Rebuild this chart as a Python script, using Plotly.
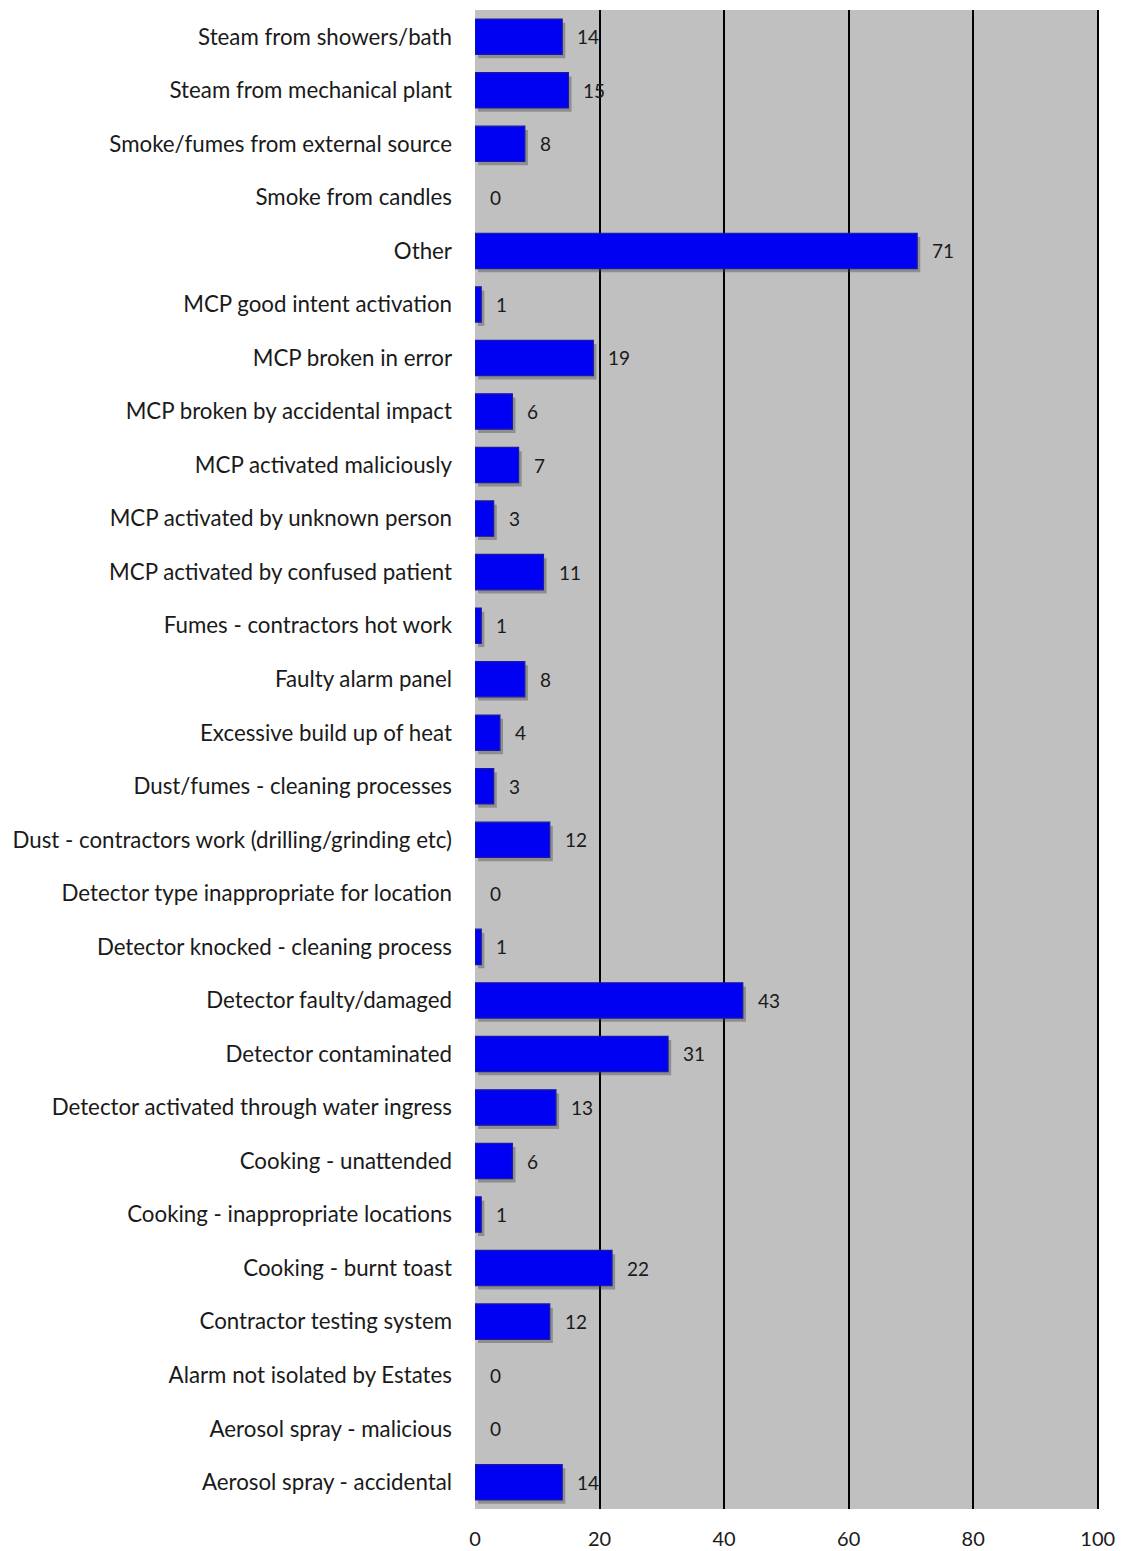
import plotly.graph_objects as go

categories = [
    "Aerosol spray - accidental",
    "Aerosol spray - malicious",
    "Alarm not isolated by Estates",
    "Contractor testing system",
    "Cooking - burnt toast",
    "Cooking - inappropriate locations",
    "Cooking - unattended",
    "Detector activated through water ingress",
    "Detector contaminated",
    "Detector faulty/damaged",
    "Detector knocked - cleaning process",
    "Detector type inappropriate for location",
    "Dust - contractors work (drilling/grinding etc)",
    "Dust/fumes - cleaning processes",
    "Excessive build up of heat",
    "Faulty alarm panel",
    "Fumes - contractors hot work",
    "MCP activated by confused patient",
    "MCP activated by unknown person",
    "MCP activated maliciously",
    "MCP broken by accidental impact",
    "MCP broken in error",
    "MCP good intent activation",
    "Other",
    "Smoke from candles",
    "Smoke/fumes from external source",
    "Steam from mechanical plant",
    "Steam from showers/bath",
]
values = [14, 0, 0, 12, 22, 1, 6, 13, 31, 43, 1, 0, 12, 3, 4, 8, 1, 11, 3, 7, 6, 19, 1, 71, 0, 8, 15, 14]
x_ticks = [0, 20, 40, 60, 80, 100]

FONT = "Lato, Calibri, Carlito, sans-serif"

line_widths = [1.2 if v > 0 else 0 for v in values]

fig = go.Figure()
# soft drop shadow
fig.add_trace(go.Bar(
    y=categories, x=values, orientation="h", base=0.5,
    width=0.66, offset=-0.40,
    marker=dict(color="rgba(60,60,60,0.38)", line=dict(width=0)),
    hoverinfo="skip",
))
fig.add_trace(go.Bar(
    y=categories, x=values, orientation="h",
    width=0.66, offset=-0.33,
    marker=dict(color="#0000F2", line=dict(color="#1a1aa0", width=line_widths)),
    hoverinfo="x+y",
))

for c, v in zip(categories, values):
    fig.add_annotation(x=v, y=c, text=str(v), showarrow=False, xanchor="left",
                       xshift=13, font=dict(family=FONT, size=19, color="#1a1a1a"))

fig.update_layout(
    width=1123, height=1551,
    margin=dict(l=475, r=24, t=10, b=42),
    paper_bgcolor="white", plot_bgcolor="#C0C0C0",
    barmode="overlay", showlegend=False,
    font=dict(family=FONT, size=19, color="#1a1a1a"),
    xaxis=dict(range=[0, 100.2], tickvals=x_ticks, showgrid=True, gridcolor="black",
               gridwidth=1.5, zeroline=False, showline=False, ticks="",
               tickfont=dict(size=20), ticklabelstandoff=16, automargin=False),
    yaxis=dict(categoryorder="array", categoryarray=categories, ticks="",
               showgrid=False, showline=False, ticklabelstandoff=22,
               tickfont=dict(size=22.3), automargin=False),
)

fig.write_html("out.html")
